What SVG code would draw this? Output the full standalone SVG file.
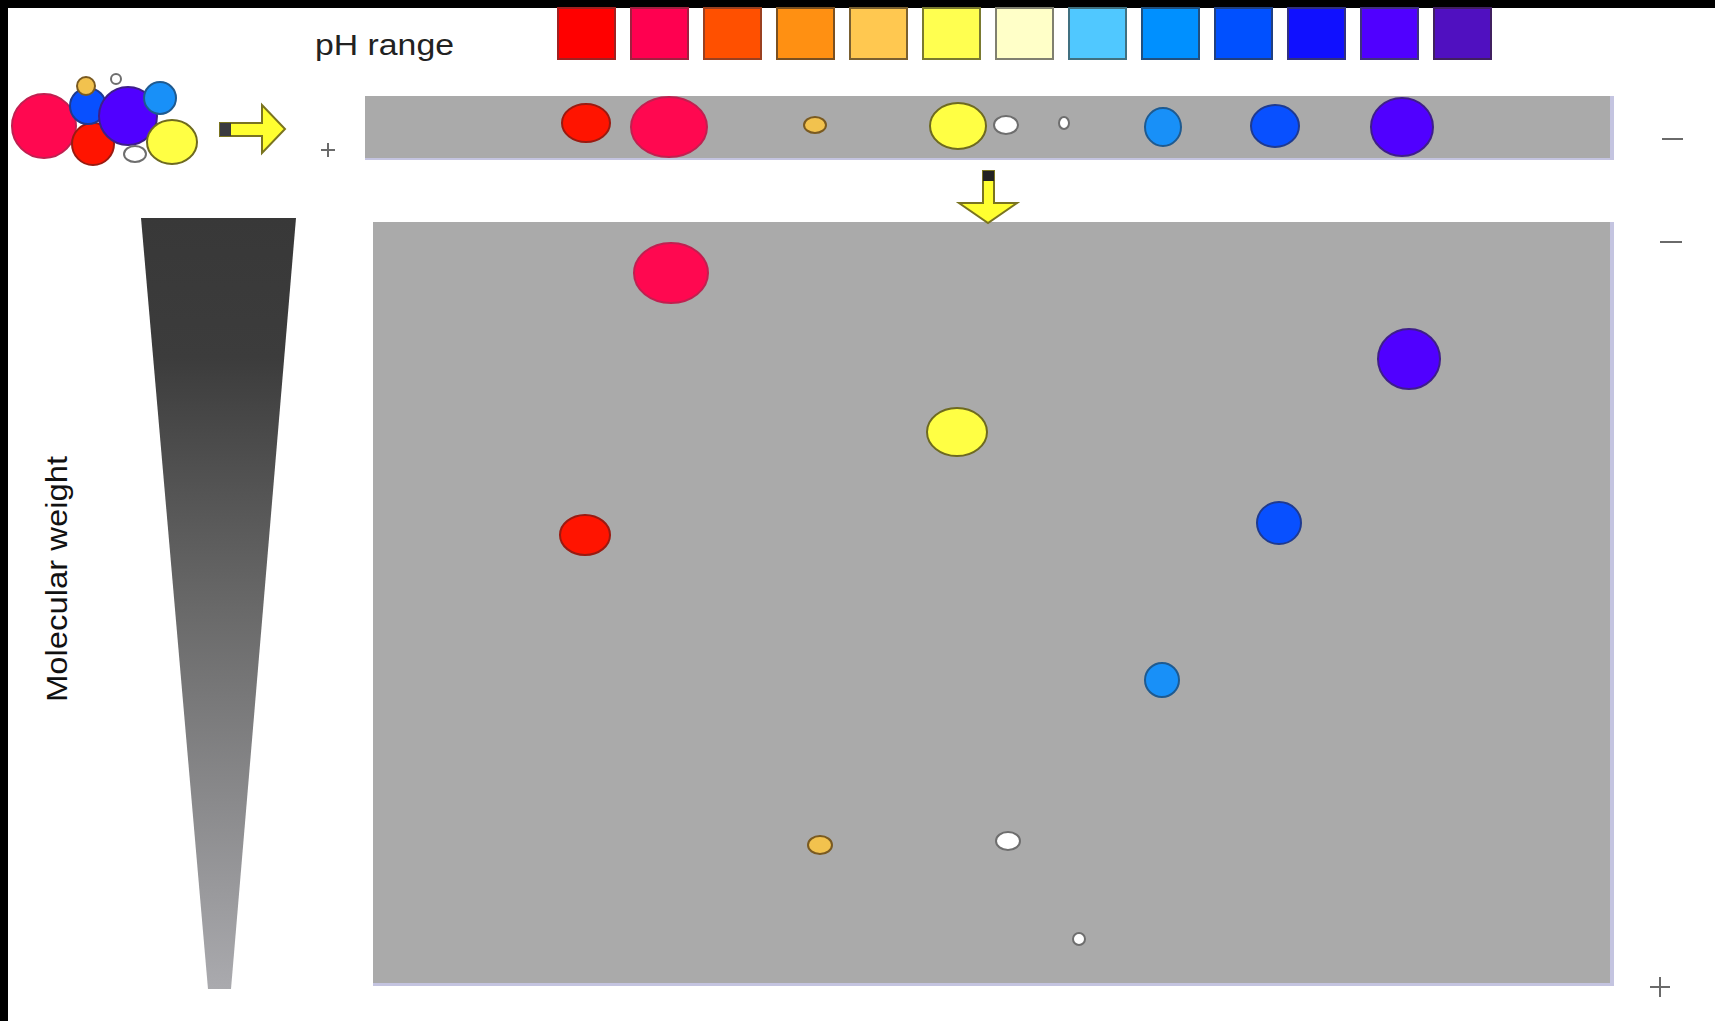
<svg xmlns="http://www.w3.org/2000/svg" width="1715" height="1021" viewBox="0 0 1715 1021">
<defs>
<linearGradient id="mw" x1="0" y1="0" x2="0" y2="1">
<stop offset="0" stop-color="#383838"/>
<stop offset="0.18" stop-color="#3c3c3c"/>
<stop offset="0.5" stop-color="#686868"/>
<stop offset="1" stop-color="#aaaaae"/>
</linearGradient>
</defs>
<style>
.gel{fill:#aaaaaa}
.edge{fill:#c4c4e0}
.sq{stroke-width:2}
.lbl{font-family:"Liberation Sans",Arial,sans-serif;fill:#222}
.pm{stroke:#6a6a6a;stroke-width:2;fill:none}
.red{fill:#ff1400;stroke:#9a1a10;stroke-width:2}
.crim{fill:#ff0850;stroke:#c02050;stroke-width:2}
.org{fill:#f2c24e;stroke:#7a5a20;stroke-width:2}
.yel{fill:#ffff44;stroke:#6e6a20;stroke-width:2}
.wht{fill:#ffffff;stroke:#6e6e6e;stroke-width:2}
.lbl2{fill:#1890f8;stroke:#1e5a90;stroke-width:2}
.blu{fill:#0850ff;stroke:#1e3a90;stroke-width:2}
.vio{fill:#5000ff;stroke:#3e1e8a;stroke-width:2}
.arrow{fill:#ffff30;stroke:#7a7420;stroke-width:2;stroke-linejoin:miter}
</style>
<rect x="0" y="0" width="1715" height="1021" fill="#ffffff"/>
<rect x="0" y="0" width="1715" height="8" fill="#000000"/>
<rect x="0" y="0" width="8" height="1021" fill="#000000"/>

<g id="ph-scale">
<text class="lbl" x="315" y="55" font-size="29" textLength="139" lengthAdjust="spacingAndGlyphs">pH range</text>
<rect class="sq" x="558" y="8" width="57" height="51" fill="#ff0000" stroke="#a02020"/>
<rect class="sq" x="631" y="8" width="57" height="51" fill="#ff0050" stroke="#a02040"/>
<rect class="sq" x="704" y="8" width="57" height="51" fill="#ff5000" stroke="#9a4020"/>
<rect class="sq" x="777" y="8" width="57" height="51" fill="#ff9012" stroke="#7a5020"/>
<rect class="sq" x="850" y="8" width="57" height="51" fill="#ffc850" stroke="#7a6030"/>
<rect class="sq" x="923" y="8" width="57" height="51" fill="#ffff50" stroke="#7a7a30"/>
<rect class="sq" x="996" y="8" width="57" height="51" fill="#ffffc8" stroke="#808070"/>
<rect class="sq" x="1069" y="8" width="57" height="51" fill="#50c8ff" stroke="#407080"/>
<rect class="sq" x="1142" y="8" width="57" height="51" fill="#0090ff" stroke="#205080"/>
<rect class="sq" x="1215" y="8" width="57" height="51" fill="#0050ff" stroke="#204080"/>
<rect class="sq" x="1288" y="8" width="57" height="51" fill="#1010ff" stroke="#303080"/>
<rect class="sq" x="1361" y="8" width="57" height="51" fill="#5000ff" stroke="#403080"/>
<rect class="sq" x="1434" y="8" width="57" height="51" fill="#5010c0" stroke="#402060"/>
</g>

<g id="mixture">
<circle class="crim" cx="44" cy="126" r="32"/>
<circle class="red" cx="93" cy="144" r="21"/>
<circle class="blu" cx="88" cy="106" r="18"/>
<circle class="org" cx="86" cy="86" r="9"/>
<circle class="wht" cx="116" cy="79" r="5"/>
<circle class="vio" cx="128" cy="116" r="29"/>
<ellipse class="wht" cx="135" cy="154" rx="11" ry="8"/>
<circle class="lbl2" cx="160" cy="98" r="16"/>
<ellipse class="yel" cx="172" cy="142" rx="25" ry="22"/>
</g>

<g id="strip-1d">
<rect class="edge" x="365" y="96" width="1249" height="64"/>
<rect class="gel" x="365" y="96" width="1245" height="62"/>
<ellipse class="red" cx="586" cy="123" rx="24" ry="19"/>
<ellipse class="crim" cx="669" cy="127" rx="38" ry="30"/>
<ellipse class="org" cx="815" cy="125" rx="11" ry="8"/>
<ellipse class="yel" cx="958" cy="126" rx="28" ry="23"/>
<ellipse class="wht" cx="1006" cy="125" rx="12" ry="9"/>
<ellipse class="wht" cx="1064" cy="123" rx="5" ry="6"/>
<ellipse class="lbl2" cx="1163" cy="127" rx="18" ry="19"/>
<ellipse class="blu" cx="1275" cy="126" rx="24" ry="21"/>
<ellipse class="vio" cx="1402" cy="127" rx="31" ry="29"/>
<path class="pm" d="M321 150 H335 M328 143 V157"/>
<path class="pm" d="M1662 139 H1683"/>
</g>

<g id="gel-2d">
<rect class="edge" x="373" y="222" width="1241" height="764"/>
<rect class="gel" x="373" y="222" width="1237" height="761"/>
<ellipse class="crim" cx="671" cy="273" rx="37" ry="30"/>
<ellipse class="vio" cx="1409" cy="359" rx="31" ry="30"/>
<ellipse class="yel" cx="957" cy="432" rx="30" ry="24"/>
<ellipse class="red" cx="585" cy="535" rx="25" ry="20"/>
<ellipse class="blu" cx="1279" cy="523" rx="22" ry="21"/>
<ellipse class="lbl2" cx="1162" cy="680" rx="17" ry="17"/>
<ellipse class="org" cx="820" cy="845" rx="12" ry="9"/>
<ellipse class="wht" cx="1008" cy="841" rx="12" ry="9"/>
<circle class="wht" cx="1079" cy="939" r="6"/>
<path class="pm" d="M1660 242 H1682"/>
<path class="pm" d="M1650 987 H1670 M1660 977 V997"/>
</g>

<g id="mw-axis">
<polygon points="141,218 296,218 231,989 208,989" fill="url(#mw)"/>
<text class="lbl" transform="translate(67,579) rotate(-90)" x="0" y="0" font-size="29" text-anchor="middle" textLength="246" lengthAdjust="spacingAndGlyphs" style="fill:#111">Molecular weight</text>
</g>

<g id="connectors">
<g id="arrow-right">
<polygon class="arrow" points="220,123 262,123 262,105 285,129 262,153 262,136 220,136"/>
<rect x="220" y="123" width="11" height="13" fill="#3a3a40"/>
</g>
<g id="arrow-down">
<polygon class="arrow" points="983,171 994,171 994,203 1017,203 988,223 959,203 983,203"/>
<rect x="983" y="171" width="11" height="10" fill="#222222"/>
</g>
</g>
</svg>
